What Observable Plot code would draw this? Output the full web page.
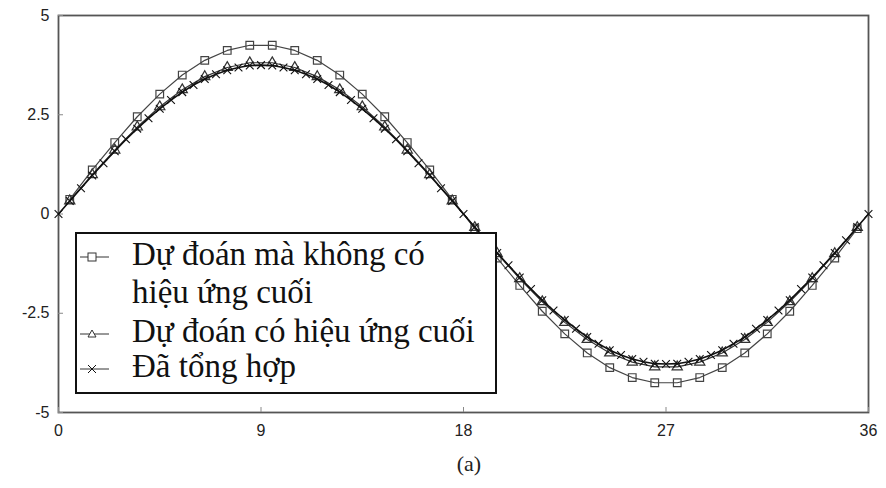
<!DOCTYPE html>
<html>
<head>
<meta charset="utf-8">
<script src="https://cdn.jsdelivr.net/npm/d3@7"></script>
<script src="https://cdn.jsdelivr.net/npm/@observablehq/plot@0.6"></script>
<style>
  body { margin: 0; background: #fff; }
  #wrap { position: relative; width: 886px; height: 488px; }
  #legend { position: absolute; left: 75px; top: 232px; }
  #caption {
    position: absolute; left: 0; width: 938px; top: 451px; text-align: center;
    font-family: "Liberation Serif", serif; font-size: 22px; color: #222;
  }
</style>
</head>
<body>
<div id="wrap">
  <div id="chart"></div>
  <div id="legend"></div>
  <div id="caption">(a)</div>
</div>
<script>
// Series labels (legend lines)
const legendLines = ["Dự đoán mà không có", "hiệu ứng cuối", "Dự đoán có hiệu ứng cuối", "Đã tổng hợp"];
const legendSymbols = ["square", null, "triangle", "times"];

// x positions (half-integers) for squares & triangles
const xHalf = [0.5,1.5,2.5,3.5,4.5,5.5,6.5,7.5,8.5,9.5,10.5,11.5,12.5,13.5,14.5,15.5,16.5,17.5,
               18.5,19.5,20.5,21.5,22.5,23.5,24.5,25.5,26.5,27.5,28.5,29.5,30.5,31.5,32.5,33.5,34.5,35.5];
// Prediction without end effect (squares)
const ySquare = [0.37,1.11,1.80,2.45,3.02,3.50,3.87,4.12,4.25,4.25,4.12,3.87,3.50,3.02,2.45,1.80,1.11,0.37,
                 -0.37,-1.11,-1.80,-2.45,-3.02,-3.50,-3.87,-4.12,-4.25,-4.25,-4.12,-3.87,-3.50,-3.02,-2.45,-1.80,-1.11,-0.37];
// Prediction with end effect (triangles)
const yTriangle = [0.33,0.99,1.61,2.19,2.70,3.13,3.46,3.69,3.81,3.81,3.69,3.46,3.13,2.70,2.19,1.61,0.99,0.33,
                   -0.34,-1.00,-1.63,-2.21,-2.73,-3.16,-3.50,-3.73,-3.85,-3.85,-3.73,-3.50,-3.16,-2.73,-2.21,-1.63,-1.00,-0.34];
// Synthesized (crosses)
const xCross = [0,0.5,1,1.5,2,2.5,3,3.5,4,4.5,5,5.5,6,6.5,7,7.5,8,8.5,9,9.5,10,10.5,11,11.5,12,12.5,13,13.5,14,14.5,15,15.5,16,16.5,17,17.5,
                18,18.5,19,19.5,20,20.5,21,21.5,22,22.5,23,23.5,24,24.5,25,25.5,26,26.5,27,27.5,28,28.5,29,29.5,30,30.5,31,31.5,32,32.5,33,33.5,34,34.5,35,35.5,36];
const yCross = [0,0.33,0.65,0.97,1.28,1.58,1.88,2.15,2.41,2.65,2.87,3.07,3.25,3.40,3.52,3.62,3.69,3.74,3.75,3.74,3.69,3.62,3.52,3.40,3.25,3.07,2.87,2.65,2.41,2.15,1.88,1.58,1.28,0.97,0.65,0.33,
                0,-0.33,-0.66,-0.98,-1.29,-1.60,-1.89,-2.17,-2.43,-2.67,-2.89,-3.10,-3.27,-3.43,-3.55,-3.65,-3.72,-3.77,-3.78,-3.77,-3.72,-3.65,-3.55,-3.43,-3.27,-3.10,-2.89,-2.67,-2.43,-2.17,-1.89,-1.60,-1.29,-0.98,-0.66,-0.33,0];

// Ticks
const xTicks = [0, 9, 18, 27, 36];
const yTicks = [-5, -2.5, 0, 2.5, 5];
const yTickLabels = ["-5", "-2.5", "0", "2.5", "5"];

const sq = xHalf.map((x, i) => ({x, y: ySquare[i]}));
const tr = xHalf.map((x, i) => ({x, y: yTriangle[i]}));
const cr = xCross.map((x, i) => ({x, y: yCross[i]}));

const chart = Plot.plot({
  width: 886,
  height: 440,
  marginLeft: 58,
  marginRight: 18,
  marginTop: 15,
  marginBottom: 28,
  style: {fontFamily: "'Liberation Sans', Arial, sans-serif", fontSize: "16px", color: "#222", background: "#fff"},
  x: {domain: [0, 36]},
  y: {domain: [-5, 5]},
  marks: [
    Plot.frame({stroke: "#555", strokeWidth: 1.8}),
    Plot.axisX({ticks: xTicks, tickSize: 0, tickPadding: 12, label: null}),
    Plot.axisX({ticks: xTicks, tickSize: -5, text: null, label: null, stroke: "#888"}),
    Plot.axisY({ticks: yTicks, tickFormat: (d) => yTickLabels[yTicks.indexOf(d)], tickSize: 0, tickPadding: 9, label: null}),
    Plot.axisY({ticks: yTicks, tickSize: -5, text: null, label: null, stroke: "#888"}),
    Plot.line(sq, {x: "x", y: "y", stroke: "#444", strokeWidth: 1.2}),
    Plot.dot(sq, {x: "x", y: "y", symbol: "square", r: 4.3, stroke: "#444", strokeWidth: 1.2, fill: "none"}),
    Plot.line(tr, {x: "x", y: "y", stroke: "#333", strokeWidth: 1.2}),
    Plot.dot(tr, {x: "x", y: "y", symbol: "triangle", r: 3.8, stroke: "#333", strokeWidth: 1.2, fill: "none"}),
    Plot.line(cr, {x: "x", y: "y", stroke: "#111", strokeWidth: 1.6}),
    Plot.dot(cr, {x: "x", y: "y", symbol: "times", r: 3.6, stroke: "#111", strokeWidth: 1.1})
  ]
});
document.getElementById("chart").appendChild(chart);

// Legend (overlay drawn as a small SVG)
const ns = "http://www.w3.org/2000/svg";
const lg = document.createElementNS(ns, "svg");
lg.setAttribute("width", 422);
lg.setAttribute("height", 162);
const baselines = [33, 71, 110, 145];
let html = '<rect x="1" y="1" width="420" height="160" fill="#fff" stroke="#111" stroke-width="2"/>';
legendLines.forEach((t, i) => {
  const b = baselines[i];
  const s = legendSymbols[i];
  if (s) {
    const cy = b - 8;
    html += `<line x1="5" y1="${cy}" x2="34" y2="${cy}" stroke="#333" stroke-width="1"/>`;
    if (s === "square") html += `<rect x="13" y="${cy - 4}" width="8" height="8" fill="#fff" stroke="#333" stroke-width="1"/>`;
    if (s === "triangle") html += `<path d="M17,${cy - 4} L21,${cy + 3} L13,${cy + 3} Z" fill="#fff" stroke="#333" stroke-width="1"/>`;
    if (s === "times") html += `<path d="M13,${cy - 4} L21,${cy + 4} M21,${cy - 4} L13,${cy + 4}" stroke="#111" stroke-width="1"/>`;
  }
  html += `<text x="57" y="${b}" font-family="'Liberation Serif', 'Times New Roman', serif" font-size="33" fill="#111">${t}</text>`;
});
lg.innerHTML = html;
document.getElementById("legend").appendChild(lg);
</script>
</body>
</html>
